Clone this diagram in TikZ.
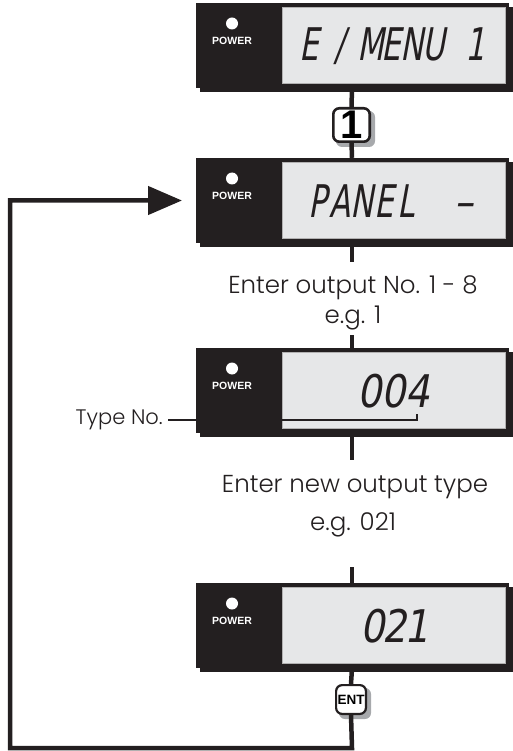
\documentclass[tikz,border=0pt]{standalone}
\usepackage{fontspec}
\usetikzlibrary{arrows.meta}
\IfFontExistsTF{Poppins Light}{\setmainfont{Poppins Light}}{\setmainfont{Poppins}}
\newfontfamily\lcdfont{DejaVu Sans}[FakeSlant=0.18, FakeStretch=0.68]
\newfontfamily\lcdnum{DejaVu Sans}[FakeSlant=0.18, FakeStretch=0.85]
\newfontfamily\btnfont{Liberation Sans}
\definecolor{ink}{HTML}{231F20}
\definecolor{lcdgrey}{HTML}{E6E7E8}
\definecolor{shade}{HTML}{A7A9AC}
\newcommand\lc[2][22pt]{\makebox[#1]{#2}}
\newcommand\mydisplay[4]{%
  \fill[ink] (199.5,#2-38.5) rectangle (512.5,#2+46.5);
  \node[dispbox] (#1) at (352,#2) {};
  \node[lcdbox] (#1lcd) at (393.5,#2) {};
  \node[lcdtext] (#1txt) at (#3,#2+1) {#4};
  \fill[white] (232,#2-22) circle (6);
  \node[powertext] (#1pw) at (232,#2-4.5) {POWER};
}
\begin{document}
\begin{tikzpicture}[x=1pt,y=-1pt,
  dispbox/.style={rectangle, fill=ink, minimum width=313pt, minimum height=85pt, inner sep=0pt},
  lcdbox/.style={rectangle, fill=lcdgrey, draw=ink!35, line width=0.6pt, minimum width=223pt, minimum height=76pt, inner sep=0pt},
  lcdtext/.style={font=\lcdfont\fontsize{45}{45}\selectfont, text=ink, inner sep=0pt},
  powertext/.style={font=\btnfont\bfseries\fontsize{10.5}{10.5}\selectfont, text=white, inner sep=0pt},
  conn/.style={draw=ink, line width=4.5pt},
  thinconn/.style={draw=ink, line width=1.8pt},
  keybox/.style={draw=ink, fill=white, rounded corners=6pt, inner sep=0pt},
  keyshadow/.style={fill=shade, rounded corners=6pt},
  bodytext/.style={font=\fontsize{24.5}{28}\selectfont, text=ink, inner sep=0pt},
  typetext/.style={font=\fontsize{21}{24}\selectfont, text=ink, inner xsep=5pt, inner ysep=0pt}
]
\useasboundingbox (0,0) rectangle (512,751);
% named points
\coordinate (t1in) at (352,262);
\coordinate (t1out) at (352,335);
\coordinate (t2in) at (352,460);
\coordinate (t2out) at (352,567);
\coordinate (lbr) at (352,748);
\coordinate (lbl) at (10,748);
\coordinate (ltl) at (10,200.5);
\coordinate (atip) at (182,200.5);
% displays
\mydisplay{d1}{45.5}{392}{\lc[21pt]{E} \lc[21pt]{/} \lc[21pt]{M}\lc[21pt]{E}\lc[21pt]{N}\lc[21pt]{U} \hspace{11pt}\lc[21pt]{1}}
\mydisplay{d2}{200.5}{391}{\lc{P}\lc{A}\lc{N}\lc{E}\lc{L} \hspace{26pt}\lc{\lcdnum –}}
\mydisplay{d3}{390.5}{394}{\lcdnum\lc[24pt]{0}\lc[24pt]{0}\lc[24pt]{4}}
\mydisplay{d4}{625.5}{395}{\lcdnum\lc{0}\lc{2}\lc{1}}
% keys
\fill[keyshadow] (336,111) rectangle (375,147);
\node[keybox, line width=2.6pt, minimum width=36.4pt, minimum height=33.4pt, font=\btnfont\bfseries\fontsize{40}{40}\selectfont] (b1) at (351.5,125) {1};
\fill[keyshadow] (339,688) rectangle (371,719);
\node[keybox, line width=2.2pt, minimum width=29.8pt, minimum height=28.8pt, font=\btnfont\bfseries\fontsize{13.5}{14}\selectfont] (ent) at (351,699.5) {ENT};
% connectors
\draw[conn] (d1.south) -- (b1.north);
\draw[conn] (b1.south) -- (d2.north);
\draw[conn] (d2.south) -- (t1in);
\draw[conn] (t1out) -- (d3.north);
\draw[conn] (d3.south) -- (t2in);
\draw[conn] (t2out) -- (d4.north);
\draw[conn] (d4.south) -- (ent.north);
\draw[conn, -{Triangle[length=34pt, width=28pt]}] (ent.south) -- (lbr) -- (lbl) -- (ltl) -- (atip);
% texts
\node[bodytext, anchor=base] (t1a) at (353,293) {Enter output No. 1 - 8};
\node[bodytext, anchor=base] (t1b) at (353,323) {e.g. 1};
\node[bodytext, anchor=base] (t2a) at (355,492) {Enter new output type};
\node[bodytext, anchor=base] (t2b) at (353,530) {e.g. 021};
\node[typetext, anchor=east] (tn) at (168,420) {Type No.};
\coordinate (tnend) at (417,414);
\draw[thinconn] (tn.east) -- (tn.east -| tnend) -- (tnend);
\end{tikzpicture}
\end{document}
